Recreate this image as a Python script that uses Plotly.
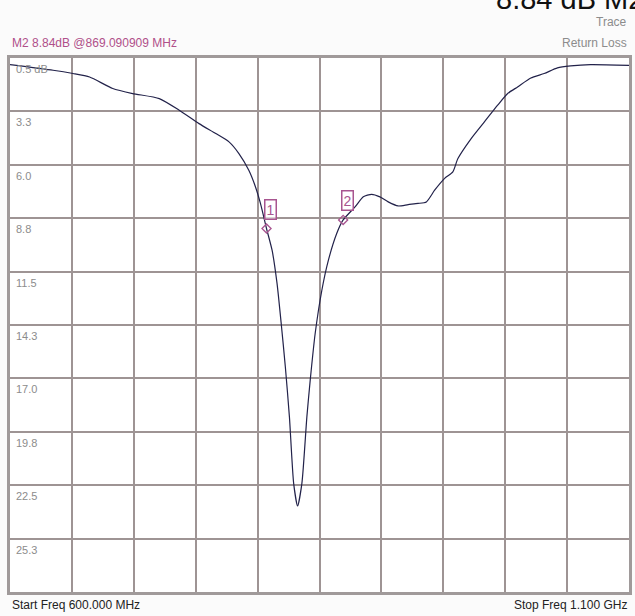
import plotly.graph_objects as go

# Return loss trace
freq_mhz = [600, 634.8, 650.9, 664.3, 683.0, 699.1, 720.6, 736.7, 752.7, 766.2,
            776.9, 784.9, 792.9, 798.3, 802.3, 807.2, 811.7, 815.7, 819.2, 822.4,
            825.7, 829.1, 832.3, 835.8, 839.8, 842.5, 846.5, 851.9, 857.2, 863.9,
            869.1, 878.7, 885.4, 892.1, 898.8, 905.5, 913.5, 921.6, 929.6, 936.3,
            943.0, 951.1, 957.7, 961.8, 972.5, 983.2, 993.9, 1002.0, 1010.0, 1020.7,
            1031.5, 1042.2, 1052.8, 1068.9, 1100]
return_loss_db = [0.84, 1.13, 1.30, 1.48, 2.07, 2.33, 2.59, 3.19, 3.88, 4.39,
                  4.82, 5.42, 6.28, 7.14, 7.99, 9.28, 10.40, 12.11, 14.26, 16.40,
                  18.98, 22.39, 23.57, 22.39, 18.98, 17.09, 14.69, 12.46, 10.91, 9.54,
                  8.84, 8.17, 7.65, 7.52, 7.65, 7.91, 8.12, 8.05, 7.99, 7.91,
                  7.31, 6.70, 6.37, 5.68, 4.65, 3.79, 2.93, 2.33, 1.99, 1.53,
                  1.30, 1.01, 0.91, 0.84, 0.88]

# markers
marker_names = ["1", "2"]
marker_freq = [807.2, 869.090909]
marker_db = [9.28, 8.84]

# y scale (dB, 2.75 dB/div)
y_ticks = [0.5, 3.25, 6.0, 8.75, 11.5, 14.25, 17.0, 19.75, 22.5, 25.25, 28.0]
y_tick_labels = ["0.5 dB", "3.3", "6.0", "8.8", "11.5", "14.3", "17.0", "19.8", "22.5", "25.3"]
x_ticks = [600, 650, 700, 750, 800, 850, 900, 950, 1000, 1050, 1100]

MARK_COL = '#a85590'
GRID_COL = '#9e9494'
FONT = 'Arial'

fig = go.Figure()

fig.add_trace(go.Scatter(
    x=freq_mhz, y=return_loss_db, mode='lines',
    line=dict(color='#22224a', width=1.2, shape='spline', smoothing=0.6),
    hoverinfo='skip',
))

fig.add_trace(go.Scatter(
    x=marker_freq, y=marker_db, mode='markers',
    marker=dict(symbol='diamond-open', size=7, color=MARK_COL, line=dict(width=1.3)),
    hoverinfo='skip',
))

annotations = []
# marker boxes
for name, fx, fy in zip(marker_names, marker_freq, marker_db):
    annotations.append(dict(
        x=fx, y=fy, xref='x', yref='y', text=name, showarrow=False,
        xshift=4, yshift=19, font=dict(family=FONT, size=14, color=MARK_COL),
        bordercolor=MARK_COL, borderwidth=1.5, borderpad=1, bgcolor='rgba(255,255,255,0.6)',
    ))

# scale labels inside plot
for val, lab in zip(y_ticks, y_tick_labels):
    annotations.append(dict(
        x=0.006, y=val, xref='paper', yref='y', text=lab, showarrow=False,
        xanchor='left', yanchor='top', yshift=-3,
        font=dict(family=FONT, size=11, color='#8c8c8c'),
    ))

# header / footer texts
annotations += [
    dict(x=0, y=1.028, xref='paper', yref='paper', text='M2 8.84dB @869.090909 MHz',
         showarrow=False, xanchor='left', yanchor='middle',
         font=dict(family=FONT, size=12, color='#b0508a')),
    dict(x=1, y=1.068, xref='paper', yref='paper', text='Trace',
         showarrow=False, xanchor='right', yanchor='middle',
         font=dict(family=FONT, size=12, color='#8c8c8c')),
    dict(x=1, y=1.029, xref='paper', yref='paper', text='Return Loss',
         showarrow=False, xanchor='right', yanchor='middle',
         font=dict(family=FONT, size=12, color='#8c8c8c')),
    # big readout, clipped at the top edge of the screen capture
    dict(x=0.782, y=1.076, xref='paper', yref='paper', text='8.84 dB M2',
         showarrow=False, xanchor='left', yanchor='bottom',
         font=dict(family=FONT, size=29, color='#111111')),
    dict(x=0, y=-0.024, xref='paper', yref='paper', text='Start Freq 600.000 MHz',
         showarrow=False, xanchor='left', yanchor='middle',
         font=dict(family=FONT, size=12, color='#222222')),
    dict(x=1, y=-0.024, xref='paper', yref='paper', text='Stop Freq 1.100 GHz',
         showarrow=False, xanchor='right', yanchor='middle',
         font=dict(family=FONT, size=12, color='#222222')),
]

fig.update_layout(
    width=635, height=616,
    margin=dict(l=10, r=3, t=58, b=24),
    paper_bgcolor='#fbfbfb',
    plot_bgcolor='#ffffff',
    showlegend=False,
    annotations=annotations,
    xaxis=dict(range=[600, 1100], tickvals=x_ticks, showticklabels=False,
               showgrid=True, gridcolor=GRID_COL, gridwidth=1.5, zeroline=False,
               showline=True, mirror=True, linecolor='#a09a9a', linewidth=3, ticks=''),
    yaxis=dict(range=[28.0, 0.5], tickvals=y_ticks, showticklabels=False,
               showgrid=True, gridcolor=GRID_COL, gridwidth=1.5, zeroline=False,
               showline=True, mirror=True, linecolor='#a09a9a', linewidth=3, ticks=''),
)

# page body has a default 8px margin; drop it so the chart fills the window
fig.write_html("out.html", config={'displayModeBar': False},
               post_script="document.body.style.margin='0px';")
